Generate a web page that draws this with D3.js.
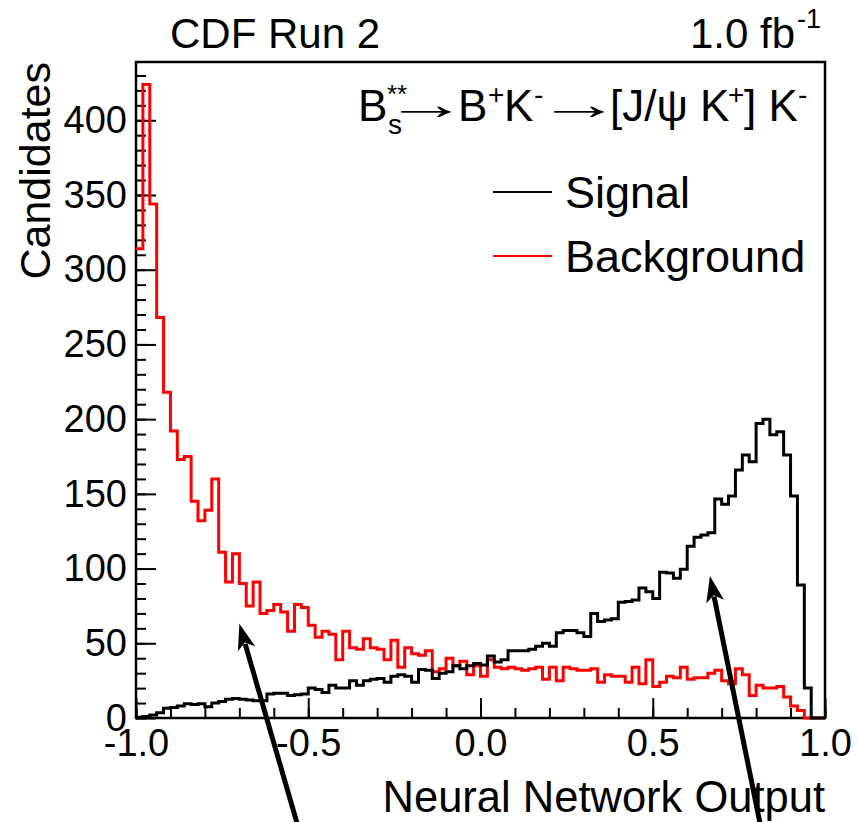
<!DOCTYPE html>
<html>
<head>
<meta charset="utf-8">
<script src="https://cdn.jsdelivr.net/npm/d3@7"></script>
<style>
body { margin: 0; background: #fff; }
svg { display: block; }
text { font-family: "Liberation Sans", Arial, Helvetica, sans-serif; fill: #000; }
</style>
</head>
<body>
<svg id="canvas" width="857" height="822"></svg>
<script>
const width = 857
const height = 822

// 100 bins of 0.02 on [-1, 1]
const binLow = d3.range(100).map(i => -1 + i * 0.02)

const signal = [0.5, 1, 2, 3.5, 6.5, 7, 8, 9.5, 9, 9.5,
    7.5, 10, 11, 12.5, 13, 12.5, 12, 11.5, 11.5, 16,
    16.5, 16.5, 15, 15.5, 16, 20, 19, 17, 22, 20,
    20, 25, 22, 25, 26, 26.5, 24, 28, 29, 28,
    24, 32.5, 32, 26.5, 30, 31, 35, 33, 35, 36.5,
    35.5, 41.5, 37.5, 39, 45, 45, 45, 46, 48, 50,
    48, 57, 58.5, 58.5, 57, 54.5, 70, 64.5, 65.5, 66.5,
    77.5, 78, 79, 87, 84.5, 80, 97.5, 97, 93.5, 99.5,
    115, 121, 122.5, 124, 146.5, 143, 148.5, 166, 176, 171.5,
    197, 200, 189.5, 191.5, 176, 148.5, 89, 20, 0, 0]

const background = [314, 424, 344, 268, 218, 192, 173, 175, 145, 132,
    139, 160, 111, 91, 110, 90, 75, 91, 70, 72,
    76, 71, 58, 76, 74, 62, 54, 58, 56, 39,
    58, 47, 46, 53, 47, 46, 39, 52, 34, 47,
    43, 42, 45, 31, 33, 40, 35, 38, 29, 35,
    28, 39, 34, 33, 34, 33, 32, 33, 34, 26,
    34, 25, 34, 33, 32, 32, 33, 24, 29, 28,
    28, 24, 34, 23, 39, 21, 24, 28, 27, 34,
    26, 27, 27, 30, 32, 25, 23, 33, 29, 15,
    22, 20, 20, 21, 14, 8, 5, 0, 0, 0]

const xTicks = [-1, -0.5, 0, 0.5, 1]
const xMinor = d3.range(-10, 11).map(i => i / 10)
const yTicks = [0, 50, 100, 150, 200, 250, 300, 350, 400]
const yMinor = d3.range(0, 440, 10)

// arrows: [tail x, tail y, tip x, tip y] in data units
const arrows = [[-0.533, -70, -0.7, 63], [0.811, -70, 0.666, 95]]

const xScale = d3.scaleLinear().domain([-1, 1]).range([136, 825])
const yScale = d3.scaleLinear().domain([0, 439]).range([718, 62])

const canvas = d3.select("#canvas")
canvas.append("rect").attr("width", width).attr("height", height).attr("fill", "#fff")

// minor ticks
canvas.append("g")
    .attr("transform", "translate(0,718)")
    .call(d3.axisBottom(xScale).tickValues(xMinor).tickSizeInner(-10).tickSizeOuter(0).tickFormat(""))
canvas.append("g")
    .attr("transform", "translate(136,0)")
    .call(d3.axisLeft(yScale).tickValues(yMinor).tickSizeInner(-10).tickSizeOuter(0).tickFormat(""))

// major ticks + labels
canvas.append("g")
    .attr("transform", "translate(0,718)")
    .call(d3.axisBottom(xScale).tickValues(xTicks).tickSizeInner(-20).tickSizeOuter(0).tickPadding(11)
        .tickFormat(d => d.toFixed(1)))
canvas.append("g")
    .attr("transform", "translate(136,0)")
    .call(d3.axisLeft(yScale).tickValues(yTicks).tickSizeInner(-20).tickSizeOuter(0).tickPadding(9))

canvas.selectAll(".domain").remove()
canvas.selectAll(".tick line").attr("stroke", "#000").attr("stroke-width", 2)
canvas.selectAll(".tick text")
    .attr("font-size", 38)
    .attr("font-family", "'Liberation Sans', Arial, Helvetica, sans-serif")
    .attr("fill", "#000")

// frame
canvas.append("rect")
    .attr("x", 136).attr("y", 62)
    .attr("width", 689).attr("height", 656)
    .attr("fill", "none").attr("stroke", "#000").attr("stroke-width", 2.5)

// histograms
const stepLine = d3.line()
    .x(d => xScale(d[0]))
    .y(d => yScale(d[1]))
    .curve(d3.curveStepAfter)

function histPoints(values) {
    const pts = values.map((v, i) => [binLow[i], v])
    pts.push([1, values[values.length - 1]])
    return pts
}

canvas.append("path")
    .attr("d", stepLine(histPoints(background)))
    .attr("fill", "none").attr("stroke", "#ff0000").attr("stroke-width", 3)
canvas.append("path")
    .attr("d", stepLine(histPoints(signal)))
    .attr("fill", "none").attr("stroke", "#000").attr("stroke-width", 3)

// arrows
arrows.forEach(a => {
    const x0 = xScale(a[0]), y0 = yScale(a[1]), x1 = xScale(a[2]), y1 = yScale(a[3])
    const len = Math.hypot(x1 - x0, y1 - y0)
    const ux = (x1 - x0) / len, uy = (y1 - y0) / len
    const hl = 26, hw = 9
    canvas.append("line")
        .attr("x1", x0).attr("y1", y0)
        .attr("x2", x1 - ux * hl * 0.8).attr("y2", y1 - uy * hl * 0.8)
        .attr("stroke", "#000").attr("stroke-width", 5)
    canvas.append("path")
        .attr("d", `M${x1},${y1}L${x1 - ux * hl - uy * hw},${y1 - uy * hl + ux * hw}L${x1 - ux * hl * 0.75},${y1 - uy * hl * 0.75}L${x1 - ux * hl + uy * hw},${y1 - uy * hl - ux * hw}Z`)
        .attr("fill", "#000")
})

// texts
canvas.append("text").attr("x", 170).attr("y", 48).attr("font-size", 42).text("CDF Run 2")
canvas.append("text").attr("x", 795).attr("y", 48).attr("font-size", 42).attr("text-anchor", "end").text("1.0 fb")
canvas.append("text").attr("x", 797).attr("y", 28).attr("font-size", 27).text("-1")

canvas.append("text")
    .attr("transform", "translate(50,62) rotate(-90)")
    .attr("text-anchor", "end").attr("font-size", 43)
    .text("Candidates")
canvas.append("text")
    .attr("x", 825).attr("y", 812)
    .attr("text-anchor", "end").attr("font-size", 43.5)
    .text("Neural Network Output")

// decay formula: [text, x, baseline, size, stretched advance]
const formula = [
    ["B", 358, 121, 44], ["s", 388, 134, 28], ["**", 387, 103, 26], ["\u2192", 384, 119, 44, 84],
    ["B", 458, 121, 44], ["+", 488, 104, 28], ["K", 504, 121, 44], ["-", 534, 104, 28],
    ["\u2192", 537, 119, 44, 84], ["[J/\u03c8 K", 610, 121, 44], ["+", 728, 104, 28],
    ["] K", 744, 121, 44], ["-", 798, 104, 28]
]
formula.forEach(f => {
    const t = canvas.append("text").attr("font-size", f[3]).text(f[0])
    if (f[4]) {
        const w = t.node().getComputedTextLength()
        t.attr("transform", `translate(${f[1]},${f[2]}) scale(${f[4] / w},1)`)
    } else {
        t.attr("x", f[1]).attr("y", f[2])
    }
})

// legend
const legend = [["Signal", "#000"], ["Background", "#ff0000"]]
legend.forEach((d, i) => {
    canvas.append("line")
        .attr("x1", 493).attr("x2", 552)
        .attr("y1", 192 + i * 64).attr("y2", 192 + i * 64)
        .attr("stroke", d[1]).attr("stroke-width", 2)
    canvas.append("text")
        .attr("x", 565).attr("y", 208 + i * 64)
        .attr("font-size", 45)
        .text(d[0])
})
</script>
</body>
</html>
